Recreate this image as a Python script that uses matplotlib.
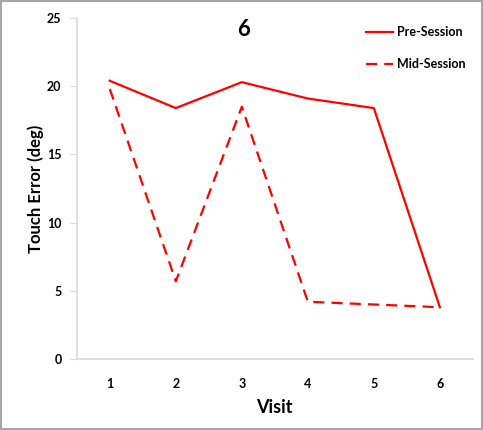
import matplotlib.pyplot as plt
from matplotlib.patches import Rectangle

plt.rcParams['font.family'] = ['Lato', 'DejaVu Sans']

visits = [1, 2, 3, 4, 5, 6]
pre_session = [20.4, 18.4, 20.3, 19.1, 18.4, 3.8]
mid_session = [19.8, 5.7, 18.5, 4.2, 4.0, 3.8]

fig = plt.figure(figsize=(4.83, 4.30), dpi=100)
ax = fig.add_axes([0.159, 0.165, 0.82, 0.793])

ax.plot(visits, pre_session, color='#ff0000', lw=1.6, label='Pre-Session')
ax.plot(visits, mid_session, color='#ff0000', lw=1.6, dashes=(5, 3.2), label='Mid-Session')

ax.set_xlim(0.5, 6.5)
ax.set_ylim(0, 25)
ax.set_xticks(visits)
ax.set_yticks([0, 5, 10, 15, 20, 25])
for s in ['top', 'right']:
    ax.spines[s].set_visible(False)
for s in ['left', 'bottom']:
    ax.spines[s].set_color('#d9d9d9')
    ax.spines[s].set_linewidth(1.2)
ax.tick_params(axis='y', length=5, color='#d9d9d9', labelsize=9, pad=6)
ax.tick_params(axis='x', length=0, labelsize=9, pad=14)
for lbl in ax.get_xticklabels() + ax.get_yticklabels():
    lbl.set_fontweight('bold')

ax.set_xlabel('Visit', fontsize=13, fontweight='bold', labelpad=6)
ax.set_ylabel('Touch Error (deg)', fontsize=12, fontweight='bold', labelpad=2)
ax.text(0.42, 0.965, '6', transform=ax.transAxes, fontsize=16, fontweight='bold',
        ha='center', va='center')

leg = ax.legend(loc='upper right', bbox_to_anchor=(1.01, 1.01), frameon=False,
                prop={'size': 9, 'weight': 'bold'}, handlelength=2.2,
                labelspacing=1.6, handletextpad=0.3)

fig.patches.append(Rectangle((0.002, 0.002), 0.996, 0.995, transform=fig.transFigure,
                             fill=False, edgecolor='#a6a6a6', lw=1.5))

fig.savefig('out.png', dpi=100)
